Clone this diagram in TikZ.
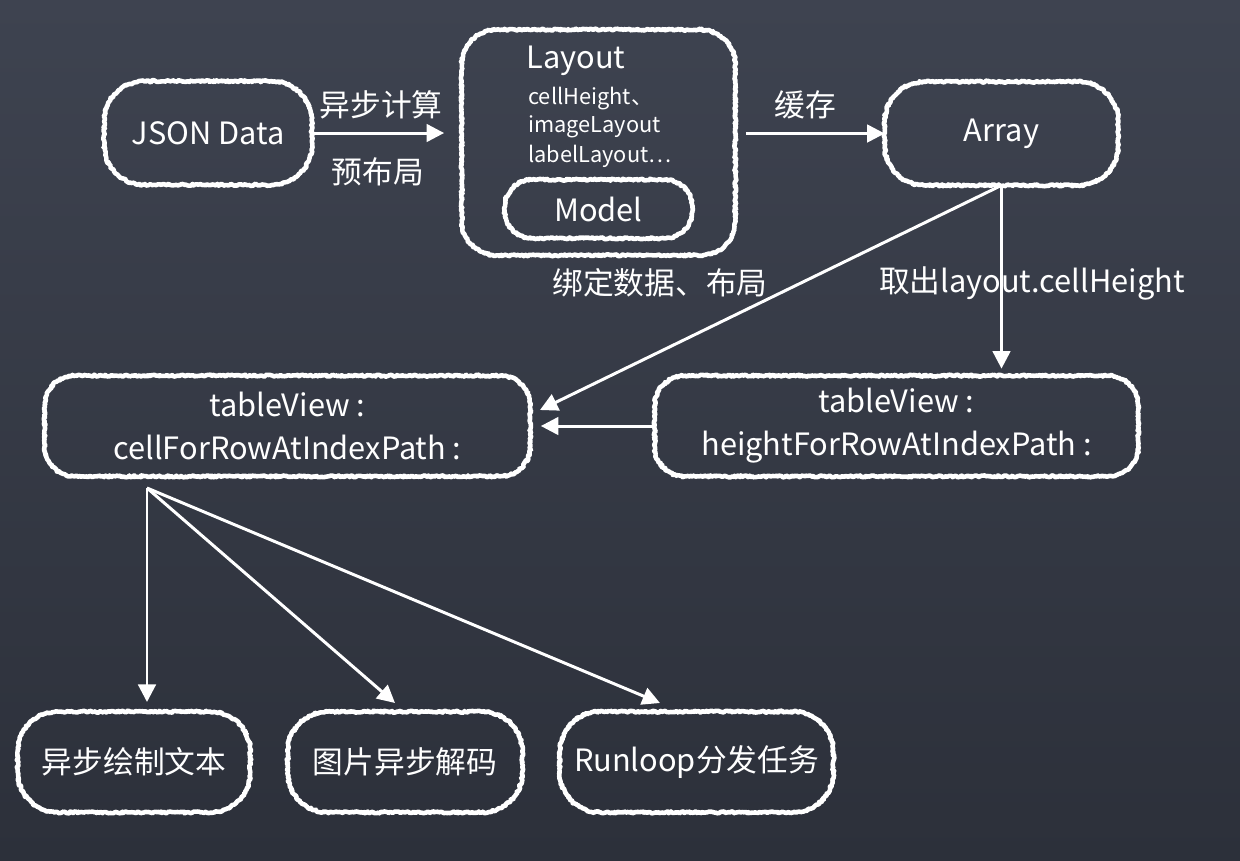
\documentclass[tikz,border=0pt]{standalone}
\usepackage{fontspec}
\setmainfont{Noto Sans CJK SC}
\usepackage{tikz}
\usetikzlibrary{arrows.meta}
\usetikzlibrary{decorations.pathmorphing}

\definecolor{boardtop}{RGB}{62,67,80}
\definecolor{boardbot}{RGB}{44,48,58}

\tikzset{
    chalk/.style={draw=white, line width=2.6pt, line join=round, line cap=round,
        decoration={random steps, segment length=0.8pt, amplitude=0.55pt}},
    chalkbox/.style={text=white, align=center, inner sep=0pt,
        font=\fontsize{17.5}{24.4}\selectfont},
    chalktext/.style={text=white, inner sep=1pt, font=\fontsize{17.5}{20}\selectfont},
    smalltext/.style={text=white, inner sep=0pt, anchor=west, font=\fontsize{12.4}{14}\selectfont},
    flow/.style={draw=white, line width=1.7pt, -{Triangle[length=10pt, width=10pt]}},
}

\begin{document}
\begin{tikzpicture}[x=0.02cm, y=-0.02cm]
    % chalkboard
    \shade[top color=boardtop, bottom color=boardbot] (0,0) rectangle (1240,860);
    \useasboundingbox (0,0) rectangle (1240,860);

    % top row
    \node[chalkbox, minimum width=4.14cm, minimum height=2.06cm] (json) at (208,133) {JSON Data};
    \node[chalkbox, minimum width=5.46cm, minimum height=4.5cm] (layout) at (598.5,142.5) {};
    \node[chalktext] (layouttitle) at (576,61) {Layout};
    \node[smalltext] (cellheight) at (528,99) {cellHeight、};
    \node[smalltext] (imagelayout) at (528,127) {imageLayout};
    \node[smalltext] (labellayout) at (528,156) {labelLayout…};
    \node[chalkbox, minimum width=3.74cm, minimum height=1.16cm] (model) at (598.5,209) {Model};
    \node[chalkbox, minimum width=4.66cm, minimum height=2.06cm] (array) at (1001.5,133.5) {Array};

    % middle row
    \node[chalkbox, minimum width=9.7cm, minimum height=2cm] (cellfor) at (287.5,426)
        {tableView :\\cellForRowAtIndexPath :};
    \node[chalkbox, minimum width=9.66cm, minimum height=2cm] (heightfor) at (896.5,426)
        {tableView :\\heightForRowAtIndexPath :};

    % bottom row
    \node[chalkbox, minimum width=4.64cm, minimum height=2cm] (drawtext) at (134,762) {异步绘制文本};
    \node[chalkbox, minimum width=4.68cm, minimum height=2cm] (decode) at (405,762) {图片异步解码};
    \node[chalkbox, minimum width=5.46cm, minimum height=2cm] (runloop) at (696.5,762) {Runloop分发任务};

    % chalk outlines
    \foreach \nd/\r in {json/0.8cm, layout/0.7cm, model/0.55cm, array/0.8cm,
                        cellfor/0.6cm, heightfor/0.6cm,
                        drawtext/0.8cm, decode/0.8cm, runloop/0.8cm}
        \draw[chalk] decorate {[rounded corners=\r] (\nd.south west) rectangle (\nd.north east)};

    % arrows
    \draw[flow, shorten >=10pt] (json.east) -- (json.east -| layout.west);
    \node[chalktext] (async) at (381,105) {异步计算};
    \node[chalktext] (prelayout) at (378,172) {预布局};

    \draw[flow, shorten <=6pt] (layout.east |- array.west) -- (array.west);
    \node[chalktext] (cache) at (805,105) {缓存};

    \coordinate (bindend) at (540,410);
    \draw[flow] (array.south) -- (bindend);
    \node[chalktext] (bind) at (660,283) {绑定数据、布局};

    \draw[flow, shorten >=4pt] (array.south) -- (array.south |- heightfor.north);
    \node[chalktext] (fetch) at (1032,283) {取出layout.cellHeight};

    \draw[flow, shorten >=6pt] (heightfor.west) -- (cellfor.east);

    \coordinate (fork) at (147,488);
    \coordinate (drawend) at (147,702);
    \coordinate (decodeend) at (395,703);
    \coordinate (runloopend) at (660,703);
    \draw[flow] (fork) -- (drawend);
    \draw[flow] (fork) -- (decodeend);
    \draw[flow] (fork) -- (runloopend);
\end{tikzpicture}
\end{document}
